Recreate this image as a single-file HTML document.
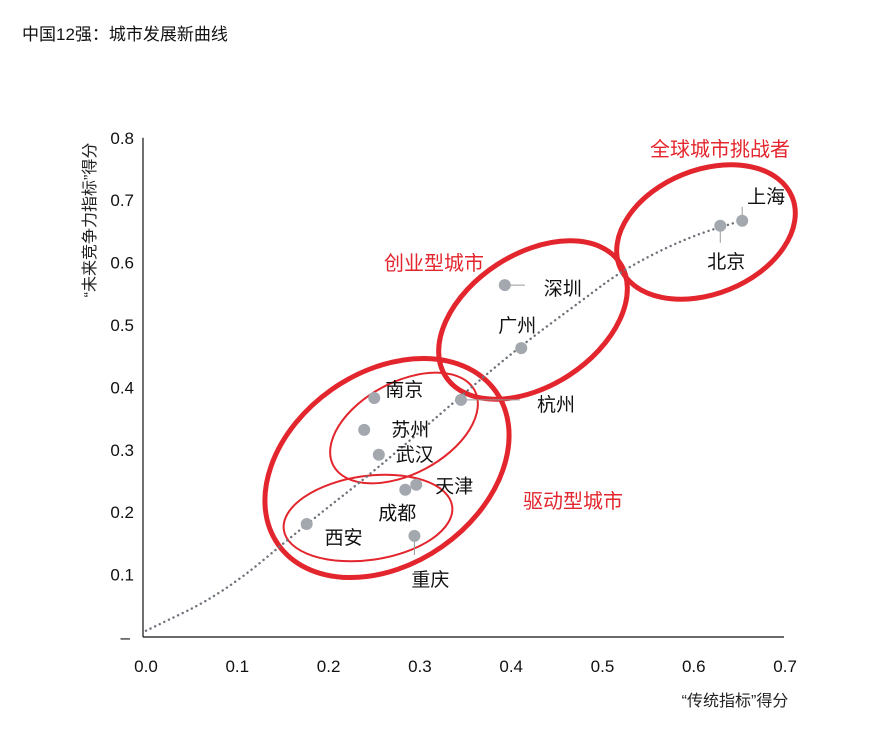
<!DOCTYPE html>
<html><head><meta charset="utf-8"><style>
body{margin:0;background:#fff;width:886px;height:727px;overflow:hidden;font-family:"Liberation Sans","Noto Sans CJK SC",sans-serif}
</style></head><body>
<svg width="886" height="727" style="font-family:'Liberation Sans','Noto Sans CJK SC',sans-serif">
<text x="22" y="40" font-size="17" fill="#111">中国12强：城市发展新曲线</text>
<g id="ells">
<ellipse cx="706" cy="232" rx="93" ry="62" transform="rotate(-22 706 232)" fill="none" stroke="#e3262d" stroke-width="5"/>
<ellipse cx="533" cy="320" rx="104" ry="66" transform="rotate(-33 533 320)" fill="none" stroke="#e3262d" stroke-width="5"/>
<ellipse cx="387" cy="468" rx="133" ry="96" transform="rotate(-35 387 468)" fill="none" stroke="#e3262d" stroke-width="5"/>
<ellipse cx="404" cy="428" rx="80" ry="46" transform="rotate(-28 404 428)" fill="none" stroke="#e3262d" stroke-width="2"/>
<ellipse cx="368" cy="518" rx="85" ry="42" transform="rotate(-8 368 518)" fill="none" stroke="#e3262d" stroke-width="2"/>
</g>
<text x="720" y="156" font-size="20" fill="#e3262d" text-anchor="middle">全球城市挑战者</text>
<text x="434" y="270" font-size="20" fill="#e3262d" text-anchor="middle">创业型城市</text>
<text x="573" y="508" font-size="20" fill="#e3262d" text-anchor="middle">驱动型城市</text>
<g id="axes"></g>
<g id="curve"></g>
<g id="pts"></g>
<text transform="translate(95 220) rotate(-90)" font-size="16" fill="#222" text-anchor="middle">“未来竞争力指标”得分</text>
<text x="735" y="706" font-size="16" fill="#222" text-anchor="middle">“传统指标”得分</text>
</svg>
<script>
const xTicks=[0,0.1,0.2,0.3,0.4,0.5,0.6,0.7];
const xTickLabels=["0.0","0.1","0.2","0.3","0.4","0.5","0.6","0.7"];
const yTicks=[0,0.1,0.2,0.3,0.4,0.5,0.6,0.7,0.8];
const yTickLabels=["–","0.1","0.2","0.3","0.4","0.5","0.6","0.7","0.8"];
const cities=["上海","北京","深圳","广州","杭州","南京","苏州","武汉","天津","成都","西安","重庆"];
const traditional=[0.653,0.629,0.393,0.411,0.345,0.250,0.239,0.255,0.296,0.284,0.176,0.294];
const future=[0.667,0.659,0.564,0.463,0.380,0.383,0.332,0.292,0.244,0.236,0.181,0.162];
const curveX=[0,0.085,0.175,0.252,0.344,0.409,0.478,0.525,0.594,0.654];
const curveY=[0.01,0.07,0.18,0.268,0.385,0.465,0.54,0.591,0.641,0.668];
// label offsets [dx,dy] and optional leader line end
const labelOff=[[24,-18],[6,42],[58,10],[-4,-16],[95,11],[30,-2],[46,6],[36,6],[38,8],[-8,30],[37,20],[16,50]];
const leaders=[[0,-14],[0,17],[20,0],null,[59,0],null,null,null,null,null,null,[0,19]];
const X=v=>146+v*913, Y=v=>637-v*624;
const NS="http://www.w3.org/2000/svg";
function mk(t,a,p){const e=document.createElementNS(NS,t);for(const k in a)e.setAttribute(k,a[k]);p.appendChild(e);return e;}
const ax=document.getElementById('axes');
let l=mk('line',{x1:143,y1:Y(0.8),x2:143,y2:637,stroke:'#111','stroke-width':1.2},ax);


l=mk('line',{x1:143,y1:637,x2:784,y2:637,stroke:'#111','stroke-width':1.2},ax);


xTicks.forEach((v,i)=>{const t=mk('text',{x:X(v),y:672,'font-size':17,'text-anchor':'middle',fill:'#111'},ax);t.textContent=xTickLabels[i];

});
yTicks.forEach((v,i)=>{const t=mk('text',{x:i==0?130:134,y:Y(v)+6,'font-size':17,'text-anchor':'end',fill:'#111'},ax);t.textContent=yTickLabels[i];

});
const cv=document.getElementById('curve');
let d='M'+X(curveX[0])+','+Y(curveY[0]);
for(let i=1;i<curveX.length;i++){const x0=X(curveX[i-1]),y0=Y(curveY[i-1]),x1=X(curveX[i]),y1=Y(curveY[i]);d+=' Q'+x0+','+y0+' '+((x0+x1)/2)+','+((y0+y1)/2);}
d+=' L'+X(curveX[curveX.length-1])+','+Y(curveY[curveY.length-1]);
const p=mk('path',{d:d,fill:'none',stroke:'#6e737b','stroke-width':2.4,'stroke-dasharray':'0.1 5','stroke-linecap':'round'},cv);


const pg=document.getElementById('pts');
cities.forEach((c,i)=>{const cx=X(traditional[i]),cy=Y(future[i]);
if(leaders[i]){const ln=mk('line',{x1:cx,y1:cy,x2:cx+leaders[i][0],y2:cy+leaders[i][1],stroke:'#999','stroke-width':1},pg);

}
const ci=mk('circle',{cx:cx,cy:cy,r:6,fill:'#a3a7ae'},pg);


const t=mk('text',{x:cx+labelOff[i][0],y:cy+labelOff[i][1],'font-size':19,'text-anchor':'middle',fill:'#111'},pg);t.textContent=c;

});
</script>
</body></html>
